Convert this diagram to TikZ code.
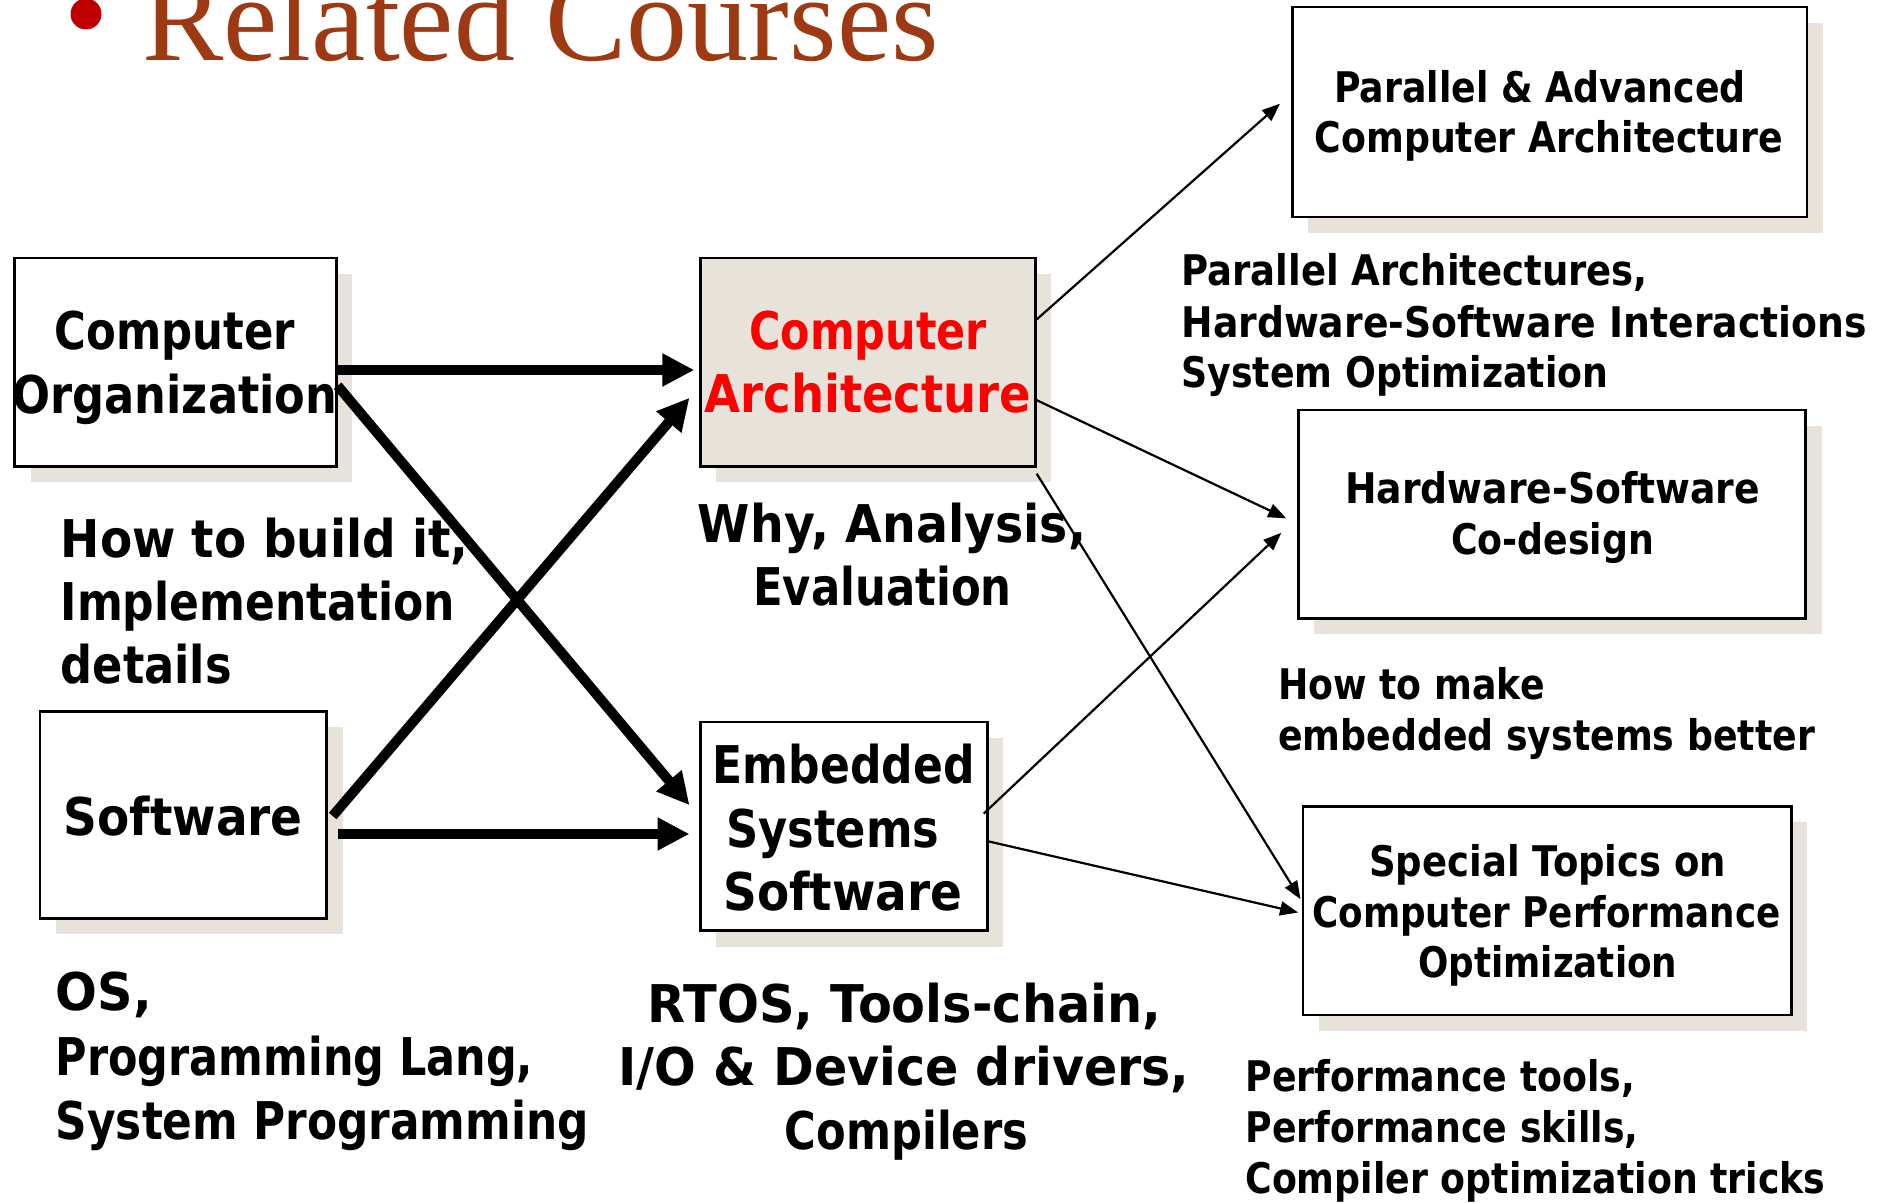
\documentclass[tikz,border=0pt]{standalone}
\usepackage{fontspec}
\usepackage{graphicx}
\usetikzlibrary{arrows.meta,calc,shadows}
\newfontfamily\comicf{DejaVu Sans}[FakeStretch=0.86]
\newfontfamily\titlef{Liberation Serif}
\definecolor{titlecol}{RGB}{157,58,20}
\definecolor{bulletcol}{RGB}{192,0,0}
\definecolor{shadecol}{RGB}{231,227,219}
\definecolor{archred}{RGB}{255,0,0}
\newcommand\sx[2]{\scalebox{#1}[1]{#2}}
\tikzset{
  box/.style={draw=black, line width=1.3pt, fill=white, inner sep=0pt,
    general shadow={fill=shadecol, shadow xshift=8pt, shadow yshift=-8pt}},
  bigt/.style={font=\comicf\bfseries\fontsize{26}{31}\selectfont, inner sep=0pt},
  smallt/.style={font=\comicf\bfseries\fontsize{21.1}{25}\selectfont, inner sep=0pt},
  thickarrow/.style={line width=5pt, -{Triangle[length=16pt,width=15.5pt]}},
  thinarrow/.style={line width=1.1pt, -{Triangle[length=9pt,width=7pt]}},
}
\begin{document}
\begin{tikzpicture}[x=0.5pt,y=-0.5pt]
\fill[white] (0,0) rectangle (1890,1203);
\useasboundingbox (0,0) rectangle (1890,1203);
% title
\node[circle, fill=bulletcol, minimum size=15.5pt, inner sep=0pt] (bul) at (86,14) {};
\node[anchor=base west, inner sep=0pt, text=titlecol, font=\titlef\fontsize{61}{61}\selectfont] (title) at (142,61) {Related Courses};
% boxes
\node[box, minimum width=160.9pt, minimum height=104.25pt] (co) at (175.4,362.2) {};
\node[box, fill=shadecol, minimum width=167.5pt, minimum height=104.25pt] (ca) at (867.9,362.2) {};
\node[box, minimum width=143.4pt, minimum height=103.6pt] (sw) at (183.2,814.8) {};
\node[box, minimum width=143.4pt, minimum height=104.3pt] (ess) at (843.8,826.3) {};
\node[box, minimum width=257.3pt, minimum height=104.9pt] (pa) at (1549.5,112.1) {};
\node[box, minimum width=253.7pt, minimum height=104.25pt] (hs) at (1552,514.1) {};
\node[box, minimum width=244.1pt, minimum height=104.3pt] (st) at (1547.1,910.7) {};
% box texts
\node[bigt, anchor=base] (coA) at (175,349.6) {\sx{0.97}{Computer}};
\node[bigt, anchor=base] (coB) at (175,413.4) {Organization};
\node[bigt, anchor=base, text=archred] (caA) at (868,349.6) {\sx{0.96}{Computer}};
\node[bigt, anchor=base, text=archred] (caB) at (868,412.3) {\sx{1.04}{Architecture}};
\node[bigt, anchor=base] (swA) at (183.2,835.3) {\sx{1.05}{Software}};
\node[bigt, anchor=base] (essA) at (843.8,783.5) {\sx{0.985}{Embedded}};
\node[bigt, anchor=base] (essB) at (833,847.4) {Systems};
\node[bigt, anchor=base] (essC) at (843,910) {\sx{1.05}{Software}};
\node[smallt, anchor=base] (paA) at (1540,102.5) {Parallel \& Advanced};
\node[smallt, anchor=base] (paB) at (1549,153) {Computer Architecture};
\node[smallt, anchor=base] (hsA) at (1552.6,503.9) {\sx{1.04}{Hardware-Software}};
\node[smallt, anchor=base] (hsB) at (1552.6,554.5) {Co-design};
\node[smallt, anchor=base] (stA) at (1547.7,876.3) {\sx{1.02}{Special Topics on}};
\node[smallt, anchor=base] (stB) at (1546.5,927) {\sx{0.985}{Computer Performance}};
\node[smallt, anchor=base] (stC) at (1547.7,977.6) {\sx{0.985}{Optimization}};
% outside texts
\node[bigt, anchor=base west] (howA) at (60.3,557) {\sx{1.05}{How to build it,}};
\node[bigt, anchor=base west] (howB) at (60.3,620.8) {\sx{0.985}{Implementation}};
\node[bigt, anchor=base west] (howC) at (60.3,683.5) {details};
\node[bigt, anchor=base] (whyA) at (892,542.4) {\sx{1.06}{Why, Analysis,}};
\node[bigt, anchor=base] (whyB) at (882.4,605) {\sx{0.97}{Evaluation}};
\node[bigt, anchor=base west] (osA) at (55.4,1010) {\sx{1.1}{OS,}};
\node[bigt, anchor=base west] (osB) at (55.4,1075) {\sx{0.96}{Programming Lang,}};
\node[bigt, anchor=base west] (osC) at (55.4,1139) {\sx{0.98}{System Programming}};
\node[bigt, anchor=base] (rtA) at (904.6,1022) {\sx{1.105}{RTOS, Tools-chain,}};
\node[bigt, anchor=base] (rtB) at (904,1085) {\sx{1.098}{I/O \& Device drivers,}};
\node[bigt, anchor=base] (rtC) at (906.5,1149) {\sx{0.966}{Compilers}};
\node[smallt, anchor=base west] (parA) at (1181,285.7) {\sx{1.02}{Parallel Architectures,}};
\node[smallt, anchor=base west] (parB) at (1181,337.5) {\sx{1.04}{Hardware-Software Interactions}};
\node[smallt, anchor=base west] (parC) at (1181,388) {System Optimization};
\node[smallt, anchor=base west] (mkA) at (1277.7,699) {How to make};
\node[smallt, anchor=base west] (mkB) at (1277.7,750) {embedded systems better};
\node[smallt, anchor=base west] (pfA) at (1245,1091) {Performance tools,};
\node[smallt, anchor=base west] (pfB) at (1245,1142.7) {Performance skills,};
\node[smallt, anchor=base west] (pfC) at (1245,1193.3) {Compiler optimization tricks};
% thick arrows
\draw[thickarrow] ($(co.east)+(0,7.8)$) -- ($(ca.west)+(-4.8,7.8)$);
\draw[thickarrow] ($(co.east)+(0,23.5)$) -- ($(ess.west)+(-9.6,-21.1)$);
\draw[thickarrow] ($(sw.east)+(4.8,1.2)$) -- ($(ca.west)+(-9.6,35.6)$);
\draw[thickarrow] ($(sw.east)+(9.6,19.2)$) -- ($(ess.west)+(-9.6,7.7)$);
% thin arrows
\draw[thinarrow] ($(ca.east)+(0,-42.8)$) -- ($(pa.west)+(-10.9,-8.4)$);
\draw[thinarrow] ($(ca.east)+(0,38)$) -- ($(hs.west)+(-10.8,4.2)$);
\draw[thinarrow] ($(ca.east)+(0,111.5)$) -- ($(st.west)+(-1.2,-11.5)$);
\draw[thinarrow] ($(ess.east)+(-4.8,-12.7)$) -- ($(hs.west)+(-15.7,18.7)$);
\draw[thinarrow] ($(ess.east)+(0,15.1)$) -- ($(st.west)+(-3.6,1.8)$);
\end{tikzpicture}
\end{document}
